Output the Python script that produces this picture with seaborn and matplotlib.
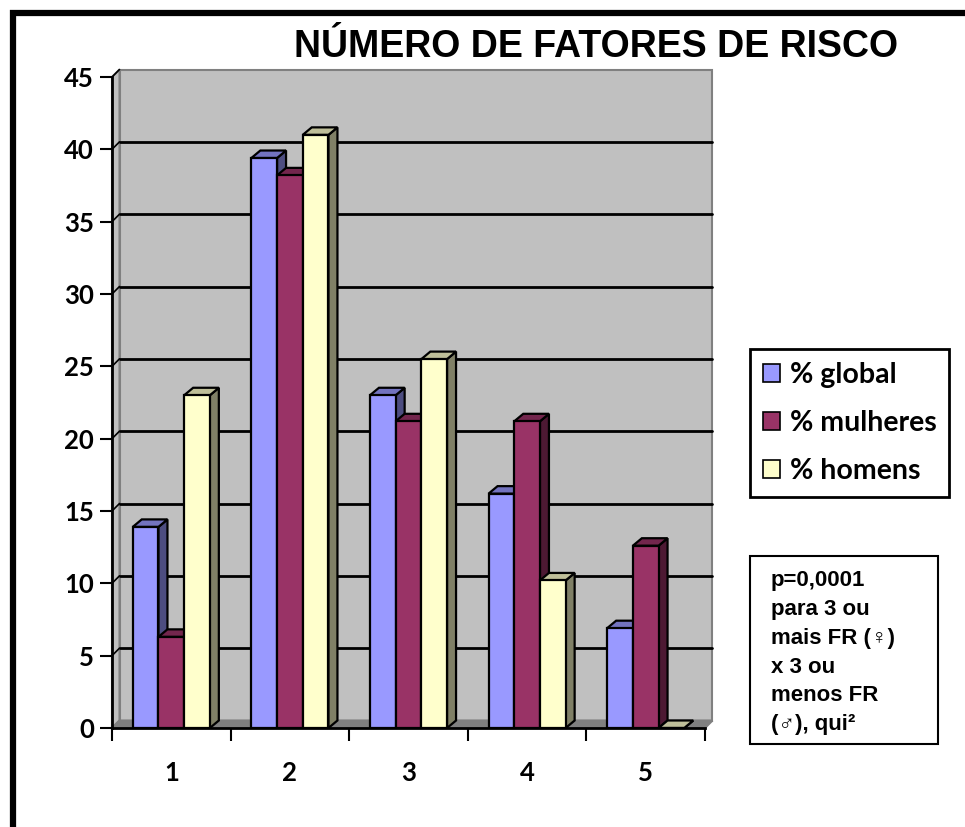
import numpy as np
import pandas as pd
import matplotlib
matplotlib.use('Agg')
import matplotlib.pyplot as plt
import seaborn as sns
from matplotlib.patches import Polygon, Patch, Rectangle
from matplotlib.lines import Line2D

# chart values
categories = ['1', '2', '3', '4', '5']
series = ['% global', '% mulheres', '% homens']
pct_global = [13.9, 39.4, 23.0, 16.2, 6.9]
pct_mulheres = [6.3, 38.2, 21.2, 21.2, 12.6]
pct_homens = [23.0, 41.0, 25.5, 10.2, 0.0]
y_ticks = [0, 5, 10, 15, 20, 25, 30, 35, 40, 45]

title = 'NÚMERO DE FATORES DE RISCO'
note = 'p=0,0001\npara 3 ou\nmais FR (♀)\nx 3 ou\nmenos FR\n(♂), qui²'

front_colors = ['#9999FF', '#993366', '#FFFFCC']
top_colors = ['#7373BF', '#73264D', '#BFBF99']
side_colors = ['#4D4D80', '#4D1933', '#808066']

df = pd.DataFrame({
    'categoria': categories * 3,
    'serie': np.repeat(series, len(categories)),
    'valor': pct_global + pct_mulheres + pct_homens,
})

sns.set_theme(style='white')
plt.rcParams['font.family'] = ['Lato', 'DejaVu Sans']
plt.rcParams['text.color'] = 'black'
plt.rcParams['xtick.color'] = 'black'
plt.rcParams['ytick.color'] = 'black'

W, H = 965, 827
fig = plt.figure(figsize=(W / 100, H / 100), dpi=100)
ax = fig.add_axes([112 / W, (H - 728) / H, 593 / W, 651 / H])
ax.patch.set_visible(False)

sns.barplot(data=df, x='categoria', y='valor', hue='serie', order=categories,
            hue_order=series, palette=front_colors, saturation=1, width=0.65,
            gap=0, edgecolor='black', linewidth=1.6, legend=False, ax=ax)
ax.set_xlim(-0.5, 4.5)
ax.set_ylim(0, 45)

# pixel -> data units
px_x = 5 / 593
px_y = 45 / 651
wdx, wdy = 7.5 * px_x, 7.5 * px_y   # wall depth
bdx, bdy = 9.0 * px_x, 7.5 * px_y   # bar depth

# walls and floor
ax.add_patch(Rectangle((-0.5 + wdx, wdy), 5, 45, facecolor='#C0C0C0',
                       edgecolor='#808080', lw=1.5, zorder=0, clip_on=False))
ax.add_patch(Polygon([(-0.5, 0), (-0.5, 45), (-0.5 + wdx, 45 + wdy), (-0.5 + wdx, wdy)],
                     closed=True, facecolor='#C0C0C0', edgecolor='#808080', lw=1.5,
                     zorder=0.2, clip_on=False))
ax.add_patch(Polygon([(-0.5, 0), (4.5, 0), (4.5 + wdx, wdy), (-0.5 + wdx, wdy)],
                     closed=True, facecolor='#808080', edgecolor='#808080', lw=1.5,
                     zorder=0.3, clip_on=False))
for v in y_ticks[1:-1]:
    ax.plot([-0.5 + wdx, 4.5 + wdx], [v + wdy, v + wdy], color='black', lw=2,
            zorder=0.5, clip_on=False)
for v in y_ticks[1:]:
    ax.plot([-0.5, -0.5 + wdx], [v, v + wdy], color='black', lw=1.2,
            zorder=0.5, clip_on=False)

# 3d faces on the bars
bars = [b for b in ax.patches if isinstance(b, Rectangle) and b.get_width() < 1][:15]
info = [(b, i // len(categories)) for i, b in enumerate(bars)]
info.sort(key=lambda t: t[0].get_x())
for k, (b, h) in enumerate(info):
    x0, w, top = b.get_x(), b.get_width(), b.get_height()
    base = 3 + k * 0.1
    ax.add_patch(Polygon([(x0 + w, 0), (x0 + w + bdx, bdy), (x0 + w + bdx, top + bdy), (x0 + w, top)],
                         closed=True, facecolor=side_colors[h], edgecolor='black', lw=1.6,
                         zorder=base, clip_on=False))
    ax.add_patch(Polygon([(x0, top), (x0 + bdx, top + bdy), (x0 + w + bdx, top + bdy), (x0 + w, top)],
                         closed=True, facecolor=top_colors[h], edgecolor='black', lw=1.6,
                         zorder=base + 0.02, clip_on=False))
    b.set_zorder(base + 0.05)

# axes, ticks
for s in ['top', 'right']:
    ax.spines[s].set_visible(False)
for s in ['left', 'bottom']:
    ax.spines[s].set_color('black')
    ax.spines[s].set_linewidth(2)
    ax.spines[s].set_zorder(10)
ax.set_yticks(y_ticks, labels=[str(v) for v in y_ticks], fontsize=18.5, fontweight='bold')
ax.set_xticks(range(len(categories)), labels=categories, fontsize=18.5, fontweight='bold')
ax.set_xticks(np.arange(-0.5, 5, 1), minor=True)
ax.tick_params(axis='y', left=True, direction='out', length=9, width=1.5, color='black',
               labelcolor='black', pad=4)
ax.tick_params(axis='x', which='major', bottom=True, length=0, pad=24, labelcolor='black')
ax.tick_params(axis='x', which='minor', bottom=True, direction='out', length=9, width=1.5, color='black')
ax.set_xlabel('')
ax.set_ylabel('')

# legend
handles = [Patch(facecolor=c, edgecolor='black', lw=1.2) for c in front_colors]
leg = fig.legend(handles=handles, labels=series, loc='upper left',
                 bbox_to_anchor=(750 / W, 1 - 349 / H), frameon=True, fancybox=False,
                 edgecolor='black', framealpha=1,
                 prop={'weight': 'bold', 'size': 20.5, 'family': 'Lato'},
                 handlelength=0.6, handleheight=0.6, handletextpad=0.35,
                 labelspacing=0.78, borderpad=0.45, borderaxespad=0)
leg.get_frame().set_linewidth(2)
for t in leg.get_texts():
    t.set_color('black')

# note box
fig.add_artist(Rectangle((750 / W, 1 - 744 / H), 188 / W, 188 / H, transform=fig.transFigure,
                         fill=False, edgecolor='black', lw=1.5))
fig.text(771 / W, 1 - 570 / H, note, ha='left', va='top', fontsize=16, fontweight='bold',
         color='black', family=['Liberation Sans', 'DejaVu Sans'], linespacing=1.49)

# title
fig.text(596 / W, 1 - 47 / H, title, ha='center', va='center', fontsize=27,
         fontweight='bold', color='black', family=['Liberation Sans', 'DejaVu Sans'])

# outer frame (top and left)
fig.add_artist(Line2D([13 / W, 13 / W, 1], [0, 1 - 13 / H, 1 - 13 / H], transform=fig.transFigure,
                      color='black', lw=4.5, solid_joinstyle='miter'))

fig.savefig('out.png', dpi=100)
